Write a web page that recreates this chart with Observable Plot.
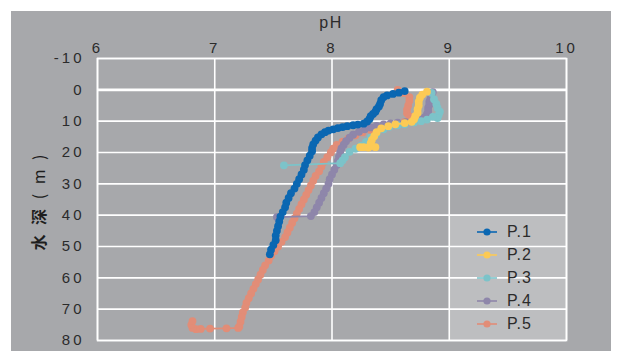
<!DOCTYPE html>
<html><head><meta charset="utf-8">
<script src="https://cdn.jsdelivr.net/npm/d3@7"></script>
<script src="https://cdn.jsdelivr.net/npm/@observablehq/plot@0.6"></script>
<style>
body{margin:0;background:#fff;}
#wrap{position:relative;width:617px;height:351px;overflow:hidden;}
#bg{position:absolute;left:11px;top:11px;width:600px;height:340px;background:#a7a8ab;}
#chart{position:absolute;left:0;top:0;}
#chart g[aria-label="x-axis tick label"] text,#chart g[aria-label="y-axis tick label"] text{letter-spacing:3px;}
#legend{position:absolute;left:449px;top:214px;width:117px;height:126px;background:rgba(255,255,255,0.25);font-family:"Liberation Sans",Arial,sans-serif;font-size:16px;color:#2b2b2b;}
.row{position:absolute;left:0;height:20px;width:117px;}
.row svg{position:absolute;left:26px;top:0;}
.row span{position:absolute;left:58px;top:1px;line-height:18px;letter-spacing:1px;}
</style></head>
<body>
<div id="wrap"><div id="bg"></div><div id="chart"></div><div id="legend"></div></div>
<script>
const seriesNames = ["P.1","P.2","P.3","P.4","P.5"];
const seriesColors = ["#0a67b2","#fcca55","#7cc3c9","#8e86aa","#e28d77"];
const xTicks = [6,7,8,9,10];
const yTicks = [-10,0,10,20,30,40,50,60,70,80];

const p1pH =    [8.62,8.57,8.52,8.47,8.44,8.42,8.41,8.40,8.38,8.37,8.35,8.33,8.32,8.30,8.27,8.22,8.18,8.13,8.09,8.05,8.01,7.97,7.94,7.91,7.88,7.86,7.84,7.83,7.83,7.81,7.79,7.77,7.76,7.74,7.72,7.70,7.68,7.65,7.63,7.61,7.60,7.58,7.56,7.55,7.54,7.53,7.52,7.52,7.50,7.48,7.47];
const p1Depth = [0.4,0.9,1.3,1.8,2.3,3.3,4.5,5.3,6.2,7.0,7.7,8.4,9.3,10.1,10.8,11.1,11.3,11.6,11.9,12.2,12.6,13.0,13.5,14.2,15.2,16.2,17.4,18.6,19.6,21.0,22.5,24.0,25.5,27.0,28.5,30.0,31.5,33.0,34.5,36.0,37.5,39.0,40.5,42.0,43.5,45.0,46.5,48.0,49.5,51.0,52.5];

const p2pH =    [8.81,8.77,8.75,8.74,8.74,8.73,8.73,8.71,8.70,8.68,8.62,8.54,8.48,8.42,8.38,8.36,8.34,8.33,8.32,8.27,8.24,8.31,8.37,8.33];
const p2Depth = [0.6,1.5,2.5,3.8,5.0,6.2,7.3,8.4,9.4,10.2,10.6,11.0,11.6,12.3,13.5,14.8,16.0,17.0,18.1,18.3,18.3,18.4,18.3,17.6];

const p3pH =    [8.85,8.87,8.89,8.90,8.92,8.91,8.90,8.86,8.81,8.76,8.70,8.62,8.56,8.49,8.44,8.38,8.33,8.29,8.25,8.20,8.15,8.11,8.09,8.07,7.59];
const p3Depth = [1.0,3.0,4.5,5.8,7.0,8.0,9.0,8.6,9.5,10.0,10.4,11.0,11.3,11.8,12.6,14.0,15.3,16.6,17.8,18.8,19.8,21.5,22.5,23.4,24.1];

const p4pH =    [8.86,8.85,8.84,8.83,8.83,8.82,8.82,8.81,8.79,8.76,8.70,8.63,8.56,8.50,8.44,8.38,8.33,8.28,8.23,8.18,8.15,8.12,8.10,8.08,8.07,8.06,8.05,8.04,8.02,8.00,7.98,7.97,7.95,7.93,7.91,7.89,7.87,7.85,7.82,7.53];
const p4Depth = [0.7,1.8,2.8,3.8,4.8,5.8,6.8,7.8,8.8,9.6,10.0,10.3,10.5,10.7,11.0,11.5,12.0,12.6,13.4,14.3,15.3,16.4,17.5,18.7,20.0,21.3,22.7,24.0,25.5,27.0,28.5,30.0,31.5,33.0,34.5,36.0,37.5,39.0,40.3,40.6];

const p5pH =    [8.56,8.61,8.66,8.66,8.65,8.64,8.64,8.66,8.67,8.62,8.55,8.47,8.40,8.33,8.26,8.20,8.14,8.09,8.04,8.01,7.99,7.96,7.93,7.91,7.89,7.86,7.84,7.82,7.80,7.78,7.76,7.74,7.72,7.70,7.68,7.66,7.64,7.62,7.60,7.57,7.54,7.51,7.48,7.46,7.43,7.41,7.39,7.37,7.35,7.33,7.31,7.29,7.27,7.26,7.24,7.23,7.22,7.21,7.20,7.10,6.96,6.88,6.84,6.81,6.80,6.81];
const p5Depth = [0.0,1.0,2.3,3.5,5.0,6.3,7.5,8.5,9.3,10.2,10.8,11.4,12.0,12.8,13.6,14.5,15.5,16.5,17.6,18.8,20.0,21.5,23.0,24.5,26.0,27.5,29.0,30.5,32.0,33.5,35.0,36.5,38.0,39.5,41.0,42.5,44.0,45.5,47.0,48.5,50.0,51.5,53.0,54.5,56.0,57.5,59.0,60.5,62.0,63.5,65.0,66.5,68.0,69.5,71.0,72.5,74.0,75.5,76.0,76.1,76.2,76.3,76.4,76.0,75.0,73.8];

const allPH = [p1pH,p2pH,p3pH,p4pH,p5pH];
const allDepth = [p1Depth,p2Depth,p3Depth,p4Depth,p5Depth];
const tables = allPH.map((ph,i)=>ph.map((v,j)=>({ph:v, depth:allDepth[i][j], s:seriesNames[i]})));

const seriesMarks = [];
for (let i = 4; i >= 0; i--) {
  seriesMarks.push(Plot.line(tables[i], {x:"ph", y:"depth", stroke:seriesColors[i], strokeWidth:1.8}));
  seriesMarks.push(Plot.dot(tables[i], {x:"ph", y:"depth", r:3.9, fill:seriesColors[i], stroke:"none"}));
}

const plot = Plot.plot({
  width:617, height:351,
  marginLeft:97, marginRight:51, marginTop:58, marginBottom:11,
  style:{background:"transparent", fontFamily:"'Liberation Sans', Arial, sans-serif", fontSize:"15px", color:"#2b2b2b", overflow:"visible"},
  x:{domain:[6,10], ticks:xTicks, axis:"top", label:null, tickSize:0, tickPadding:6, tickFormat:d=>String(d)},
  y:{domain:[-10,80], reverse:true, ticks:yTicks, label:null, tickSize:0, tickPadding:13, tickFormat:d=>String(d)},
  marks:[
    Plot.gridX(xTicks, {stroke:"#fff", strokeOpacity:1, strokeWidth:1.6}),
    Plot.gridY(yTicks, {stroke:"#fff", strokeOpacity:1, strokeWidth:1.6}),
    Plot.ruleY([0], {stroke:"#fff", strokeWidth:2.6}),
    Plot.frame({stroke:"#fff", strokeWidth:1.6}),
    ...seriesMarks
  ]
});
document.getElementById("chart").appendChild(plot);

const svg = d3.select(plot);
svg.append("text").attr("x",331).attr("y",28).attr("text-anchor","middle")
  .style("font-size","16px").style("letter-spacing","1.5px").attr("fill","#2b2b2b").text("pH");
const yl = svg.append("text").attr("transform","translate(45,201) rotate(-90)").attr("text-anchor","middle")
  .style("font-family","'Noto Sans CJK SC', sans-serif").style("font-size","16px").style("letter-spacing","3px").attr("fill","#1e1e1e");
yl.append("tspan").style("font-weight","bold").text("水 深");
yl.append("tspan").text(" ( m )");

const leg = d3.select("#legend");
seriesNames.forEach((n,i)=>{
  const row = leg.append("div").attr("class","row").style("top",(8 + i*23.1)+"px");
  const s = row.append("svg").attr("width",26).attr("height",20);
  s.append("line").attr("x1",2).attr("x2",22).attr("y1",10).attr("y2",10).attr("stroke",seriesColors[i]).attr("stroke-width",1.6);
  s.append("circle").attr("cx",12).attr("cy",10).attr("r",3.6).attr("fill",seriesColors[i]);
  row.append("span").text(n);
});
</script>
</body></html>
